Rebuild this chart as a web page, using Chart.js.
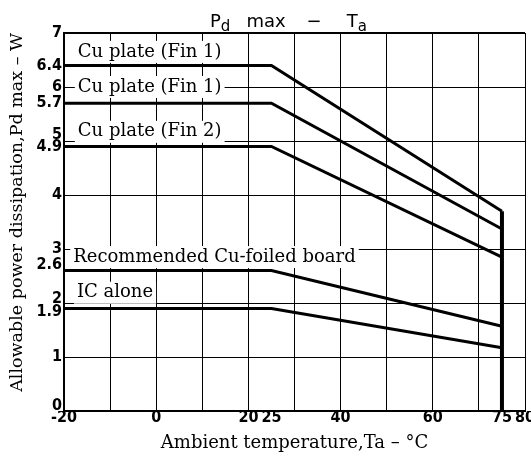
<!DOCTYPE html>
<html>
<head>
<meta charset="utf-8">
<script src="https://cdn.jsdelivr.net/npm/chart.js@4.4.0/dist/chart.umd.min.js"></script>
<style>
body { margin: 0; background: #fff; }
#wrap { position: relative; width: 531px; height: 458px; }
#ttl { position: absolute; left: 210px; top: 12px; font: 18px 'DejaVu Sans', sans-serif; line-height: 18px; white-space: nowrap; color: #000; }
#ttl sub { font-size: 15px; vertical-align: baseline; position: relative; top: 4px; line-height: 0; }
</style>
</head>
<body>
<div id="wrap">
<canvas id="chart" width="531" height="458"></canvas>
<div id="ttl">P<sub>d</sub><span style="margin-left:16px">max</span><span style="margin-left:21px">−</span><span style="margin-left:25px">T</span><sub>a</sub></div>
</div>
<script>
// derating curves: flat up to 25 degC, then straight down to 75 degC
const tempPoints = [-20, 25, 75];
const cuPlateFin1Upper = [6.4, 6.4, 3.70];
const cuPlateFin1Lower = [5.7, 5.7, 3.37];
const cuPlateFin2 = [4.9, 4.9, 2.85];
const cuFoiledBoard = [2.6, 2.6, 1.57];
const icAlone = [1.9, 1.9, 1.17];
const cutoffTemp = 75;

const xTickValues = [-20, -10, 0, 10, 20, 25, 30, 40, 50, 60, 70, 75, 80];
const xTickLabels = [-20, 0, 20, 25, 40, 60, 75, 80];
const yTickValues = [0, 1, 1.9, 2, 2.6, 3, 4, 4.9, 5, 5.7, 6, 6.4, 7];

// curve names written inside the plot, anchored at (temp, power)
const curveNames = ['Cu plate (Fin 1)', 'Cu plate (Fin 1)', 'Cu plate (Fin 2)', 'Recommended Cu-foiled board', 'IC alone'];
const nameTemp = [-17, -17, -17, -18, -17.2];
const namePower = [6.65, 6.0, 5.17, 2.85, 2.19];

const allSeries = [cuPlateFin1Upper, cuPlateFin1Lower, cuPlateFin2, cuFoiledBoard, icAlone];

// some y labels sit a bit off their value so they don't collide
const ySplit = {0: -5, 5: -6, 2.6: -6, 2: -4, 1.9: 3};

const datasets = allSeries.map((s, k) => ({
    label: curveNames[k],
    data: tempPoints.map((t, i) => ({x: t, y: s[i]})),
    borderColor: '#000',
    borderWidth: 3,
    pointRadius: 0,
    tension: 0
}));
datasets.push({
    label: 'cutoff',
    data: [{x: cutoffTemp, y: cuPlateFin1Upper[2]}, {x: cutoffTemp, y: 0}],
    borderColor: '#000',
    borderWidth: 4,
    pointRadius: 0
});

const curveNamePlugin = {
    id: 'curveNames',
    beforeDatasetsDraw(chart) {
        const ctx = chart.ctx;
        const xs = chart.scales.x, ys = chart.scales.y;
        ctx.save();
        ctx.font = "18px 'DejaVu Serif', serif";
        ctx.textBaseline = 'middle';
        ctx.textAlign = 'left';
        for (let i = 0; i < curveNames.length; i++) {
            const px = xs.getPixelForValue(nameTemp[i]);
            const py = ys.getPixelForValue(namePower[i]);
            const w = ctx.measureText(curveNames[i]).width;
            ctx.fillStyle = '#fff';
            ctx.fillRect(px - 3, py - 11, w + 6, 22);
            ctx.fillStyle = '#000';
            ctx.fillText(curveNames[i], px, py);
        }
        ctx.restore();
    }
};

new Chart(document.getElementById('chart'), {
    type: 'line',
    data: {datasets: datasets},
    plugins: [curveNamePlugin],
    options: {
        responsive: false,
        animation: false,
        layout: {padding: {top: 33, right: 6, left: 0, bottom: 0}},
        plugins: {
            legend: {display: false},
            tooltip: {enabled: false}
        },
        scales: {
            x: {
                type: 'linear',
                min: -20,
                max: 80,
                afterBuildTicks: (s) => { s.ticks = xTickValues.map(v => ({value: v})); },
                afterFit: (s) => { s.height = 47; s.paddingLeft = 0; s.paddingRight = 0; },
                ticks: {
                    autoSkip: false,
                    maxRotation: 0,
                    padding: -3,
                    color: '#000',
                    font: {family: "'DejaVu Sans Condensed', 'DejaVu Sans'", weight: 'bold', size: 16},
                    callback: (v) => xTickLabels.includes(v) ? String(v) : ''
                },
                grid: {
                    drawTicks: false,
                    color: (c) => (c.tick && c.tick.value % 10 === 0) ? '#000' : 'rgba(0,0,0,0)',
                    lineWidth: 1
                },
                border: {display: true, color: '#000', width: 2},
                title: {
                    display: true,
                    text: 'Ambient temperature,Ta – °C',
                    color: '#000',
                    font: {family: "'DejaVu Serif'", size: 18},
                    padding: {top: 0, bottom: 4}
                }
            },
            y: {
                min: 0,
                max: 7,
                afterBuildTicks: (s) => { s.ticks = yTickValues.map(v => ({value: v})); },
                afterFit: (s) => { s.width = 64; s.paddingTop = 0; s.paddingBottom = 0; },
                ticks: {
                    autoSkip: false,
                    padding: 2,
                    color: '#000',
                    font: (c) => {
                        const sh = c.tick ? ySplit[c.tick.value] : undefined;
                        return {family: "'DejaVu Sans Condensed', 'DejaVu Sans'", weight: 'bold', size: 16,
                                lineHeight: sh ? (Math.abs(sh) * 2) + 'px' : 1.2};
                    },
                    callback: (v) => {
                        const sh = ySplit[v];
                        if (!sh) return String(v);
                        return sh < 0 ? [String(v), ''] : ['', String(v)];
                    }
                },
                grid: {
                    drawTicks: false,
                    color: (c) => (c.tick && Number.isInteger(c.tick.value)) ? '#000' : 'rgba(0,0,0,0)',
                    lineWidth: (c) => (c.tick && c.tick.value === 7) ? 2 : 1
                },
                border: {display: true, color: '#000', width: 2},
                title: {
                    display: true,
                    text: 'Allowable power dissipation,Pd max – W',
                    align: 'end',
                    color: '#000',
                    font: {family: "'DejaVu Serif'", size: 17.5},
                    padding: {top: 7, bottom: 0}
                }
            }
        }
    }
});
</script>
</body>
</html>
